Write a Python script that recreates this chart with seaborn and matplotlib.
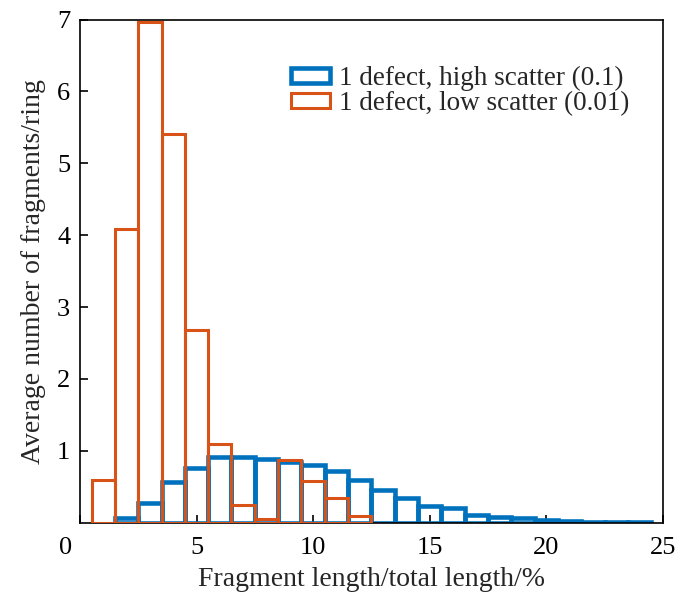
import numpy as np
import pandas as pd
import matplotlib
matplotlib.use("Agg")
import matplotlib.pyplot as plt
import matplotlib.transforms as mtransforms
import seaborn as sns
from matplotlib.patches import Patch

# Data
blue_centers = [2, 3, 4, 5, 6, 7, 8, 9, 10, 11, 12, 13, 14, 15, 16, 17, 18, 19, 20, 21, 22, 23, 24]
blue_values = [0.06, 0.28, 0.56, 0.76, 0.91, 0.92, 0.89, 0.85, 0.80, 0.72, 0.59, 0.45, 0.34, 0.23,
               0.20, 0.11, 0.08, 0.06, 0.035, 0.02, 0.012, 0.006, 0.004]
orange_centers = [1, 2, 3, 4, 5, 6, 7, 8, 9, 10, 11, 12]
orange_values = [0.59, 4.08, 6.97, 5.41, 2.68, 1.09, 0.24, 0.05, 0.87, 0.58, 0.34, 0.10]
blue_label = "1 defect, high scatter (0.1)"
orange_label = "1 defect, low scatter (0.01)"
x_ticks = [0, 5, 10, 15, 20, 25]
y_ticks = [1, 2, 3, 4, 5, 6, 7]

BLUE = "#0072BD"
ORANGE = "#D95319"

sns.set_style("white")
plt.rcParams["font.family"] = ["Liberation Serif", "DejaVu Serif"]

fig = plt.figure(figsize=(6.89, 5.94), dpi=100)
ax = fig.add_axes([0.116, 0.120, 0.846, 0.847])

df_b = pd.DataFrame({"x": blue_centers, "w": blue_values})
df_o = pd.DataFrame({"x": orange_centers, "w": orange_values})

sns.histplot(data=df_b, x="x", weights="w", binwidth=1, binrange=(1.5, 24.5),
             element="bars", fill=False, color=BLUE, linewidth=3.3, ax=ax, zorder=2)
sns.histplot(data=df_o, x="x", weights="w", binwidth=1, binrange=(0.5, 12.5),
             element="bars", fill=False, color=ORANGE, linewidth=2.2, ax=ax, zorder=3)

ax.set_xlim(0, 25)
ax.set_ylim(0, 7)
ax.set_xticks(x_ticks)
ax.set_yticks(y_ticks)
ax.tick_params(direction="in", length=6, width=1.2, labelsize=19, colors="black",
               bottom=True, left=True)
ax.tick_params(axis="x", pad=10)
ax.tick_params(axis="y", pad=7)
for s in ax.spines.values():
    s.set_visible(True)
    s.set_color("black")
    s.set_linewidth(1.2)

# first x tick label sits slightly left in the reference
lbl0 = ax.get_xticklabels()[0]
lbl0.set_transform(lbl0.get_transform() + mtransforms.ScaledTranslation(-14 / 100, 0, fig.dpi_scale_trans))

ax.set_xlabel("Fragment length/total length/%", fontsize=20, labelpad=6)
ax.set_ylabel("Average number of fragments/ring", fontsize=20, labelpad=8)

handles = [Patch(facecolor="white", edgecolor=BLUE, linewidth=3.3, label=blue_label),
           Patch(facecolor="white", edgecolor=ORANGE, linewidth=2.2, label=orange_label)]
ax.legend(handles=handles, loc="upper right", bbox_to_anchor=(0.962, 0.93), frameon=False,
          fontsize=19.5, handlelength=1.45, handleheight=0.47, handletextpad=0.35,
          labelspacing=0.0, borderaxespad=0.2, borderpad=0.2)

fig.savefig("out.png", dpi=100)
